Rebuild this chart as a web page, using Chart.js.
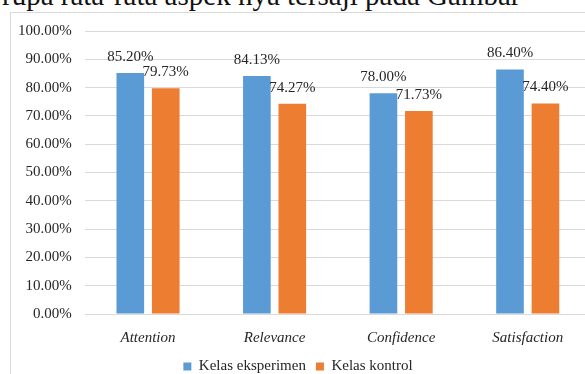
<!DOCTYPE html>
<html>
<head>
<meta charset="utf-8">
<script src="https://cdn.jsdelivr.net/npm/chart.js@4.4.0/dist/chart.umd.min.js"></script>
<style>
  html, body { margin: 0; padding: 0; background: #fff; overflow: hidden; }
  body { width: 585px; height: 374px; position: relative; }
  .teks-atas {
    position: absolute; left: 2px; top: -21px; white-space: nowrap;
    font-family: "Liberation Serif", serif; font-size: 29px; color: #111;
  }
  .bingkai {
    position: absolute; left: 10px; top: 12px; width: 620px; height: 400px;
    border-left: 1px solid #d9d9d9; border-top: 1px solid #d9d9d9;
  }
  .wadah { position: absolute; left: 0; top: 0; width: 600px; height: 386px; }
</style>
</head>
<body>
<div class="teks-atas">rupa rata-rata aspek nya tersaji pada Gambar</div>
<div class="bingkai"></div>
<div class="wadah"><canvas id="grafikAspek"></canvas></div>
<script>
// Data dari gambar
const kategori = ['Attention', 'Relevance', 'Confidence', 'Satisfaction'];
const kelasEksperimen = [85.20, 84.13, 78.00, 86.40];
const kelasKontrol = [79.73, 74.27, 71.73, 74.40];
const labelSeri = ['Kelas eksperimen', 'Kelas kontrol'];

const warnaTeks = '#262626';
const fontSerif = '"Liberation Serif", "Times New Roman", serif';

// plugin sederhana untuk label nilai di atas batang
const labelNilai = {
  id: 'labelNilai',
  afterDatasetsDraw(chart) {
    const ctx = chart.ctx;
    ctx.save();
    ctx.font = '15px ' + fontSerif;
    ctx.fillStyle = warnaTeks;
    ctx.textAlign = 'center';
    ctx.textBaseline = 'alphabetic';
    chart.data.datasets.forEach((ds, i) => {
      const meta = chart.getDatasetMeta(i);
      meta.data.forEach((bar, j) => {
        ctx.fillText(ds.data[j].toFixed(2) + '%', bar.x, bar.y - 12);
      });
    });
    ctx.restore();
  }
};

document.addEventListener('DOMContentLoaded', () => {
  const ctx = document.getElementById('grafikAspek').getContext('2d');

  new Chart(ctx, {
    type: 'bar',
    data: {
      labels: kategori,
      datasets: [
        {
          label: labelSeri[0],
          data: kelasEksperimen,
          backgroundColor: '#5b9bd5',
          barPercentage: 0.78,
          categoryPercentage: 0.56
        },
        {
          label: labelSeri[1],
          data: kelasKontrol,
          backgroundColor: '#ed7d31',
          barPercentage: 0.78,
          categoryPercentage: 0.56
        }
      ]
    },
    options: {
      responsive: true,
      maintainAspectRatio: false,
      animation: false,
      layout: {
        padding: { left: 5, right: 9, top: 31, bottom: 2 }
      },
      plugins: {
        legend: {
          position: 'bottom',
          labels: {
            boxWidth: 8,
            boxHeight: 8,
            padding: 10,
            color: warnaTeks,
            font: { family: fontSerif, size: 15 }
          }
        },
        tooltip: { enabled: false }
      },
      scales: {
        x: {
          grid: { display: false, drawTicks: false },
          border: { display: false },
          ticks: {
            color: warnaTeks,
            padding: 15,
            font: { family: fontSerif, size: 15, style: 'italic' }
          },
          afterFit: function(scale) {
            // rapatkan legenda ke label sumbu
            scale.height -= 13;
          }
        },
        y: {
          min: 0,
          max: 100,
          border: { display: false },
          grid: { color: '#d9d9d9', lineWidth: 1, drawTicks: false },
          ticks: {
            stepSize: 10,
            color: warnaTeks,
            padding: 13,
            font: { family: fontSerif, size: 15 },
            callback: function(value) {
              return value.toFixed(2) + '%';
            }
          }
        }
      }
    },
    plugins: [labelNilai]
  });
});
</script>
</body>
</html>
